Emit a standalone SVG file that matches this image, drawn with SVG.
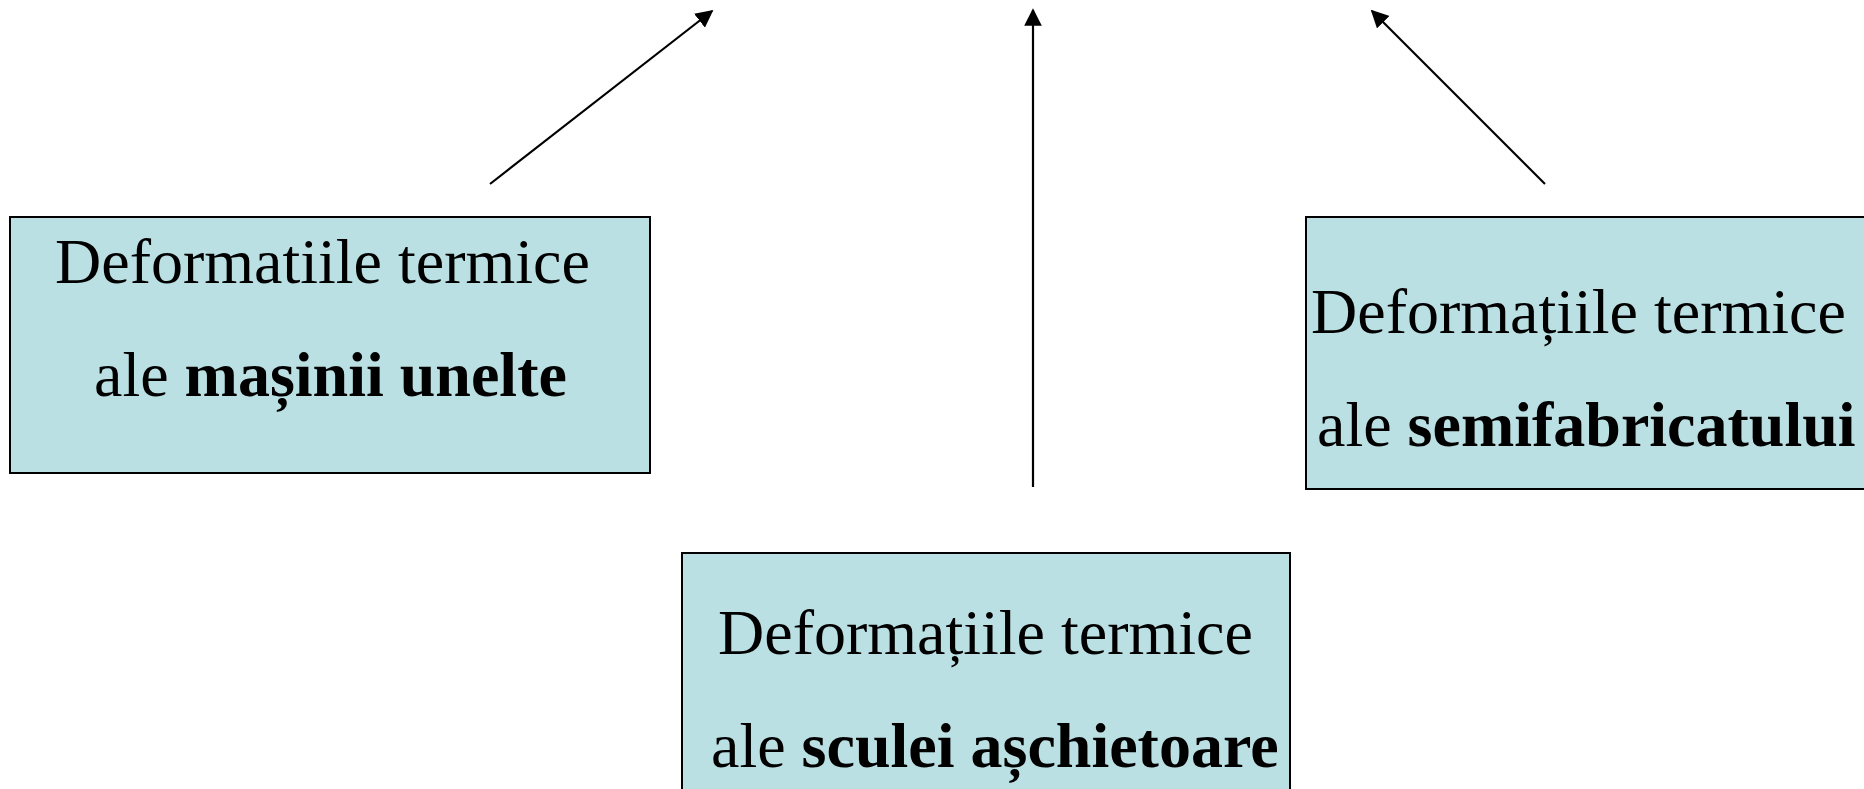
<svg xmlns="http://www.w3.org/2000/svg" width="1864" height="789" viewBox="0 0 1864 789">
  <style>
    .box { fill: #BBE0E3; stroke: #000; stroke-width: 2; }
    .lbl { font-family: "Liberation Serif", "Times New Roman", serif; font-size: 64px; fill: #000; }
    .b { font-weight: bold; }
    .conn { stroke: #000; stroke-width: 2.2; fill: none; marker-end: url(#arrow); }
  </style>
  <defs>
    <marker id="arrow" viewBox="0 0 10 10" refX="9" refY="5" markerWidth="8" markerHeight="8" markerUnits="strokeWidth" orient="auto">
      <path d="M0,0 L10,5 L0,10 Z" fill="#000"/>
    </marker>
  </defs>
  <rect width="1864" height="789" fill="#fff"/>

  <g id="connectors">
    <line class="conn" x1="490" y1="184" x2="712" y2="11"/>
    <line class="conn" x1="1033" y1="487" x2="1033" y2="10"/>
    <line class="conn" x1="1545" y1="184" x2="1372" y2="11"/>
  </g>

  <g id="node-masina">
    <rect class="box" x="10" y="217" width="640" height="256"/>
    <text class="lbl" x="55" y="283">Deformatiile termice</text>
    <text class="lbl" x="94" y="396">ale <tspan class="b">mașinii unelte</tspan></text>
  </g>

  <g id="node-semifabricat">
    <rect class="box" x="1306" y="217" width="562" height="272"/>
    <text class="lbl" x="1311" y="333">Deformațiile termice</text>
    <text class="lbl" x="1317" y="446">ale <tspan class="b">semifabricatului</tspan></text>
  </g>

  <g id="node-scula">
    <rect class="box" x="682" y="553" width="608" height="240"/>
    <text class="lbl" x="718" y="654">Deformațiile termice</text>
    <text class="lbl" x="711" y="767">ale <tspan class="b">sculei așchietoare</tspan></text>
  </g>
</svg>
